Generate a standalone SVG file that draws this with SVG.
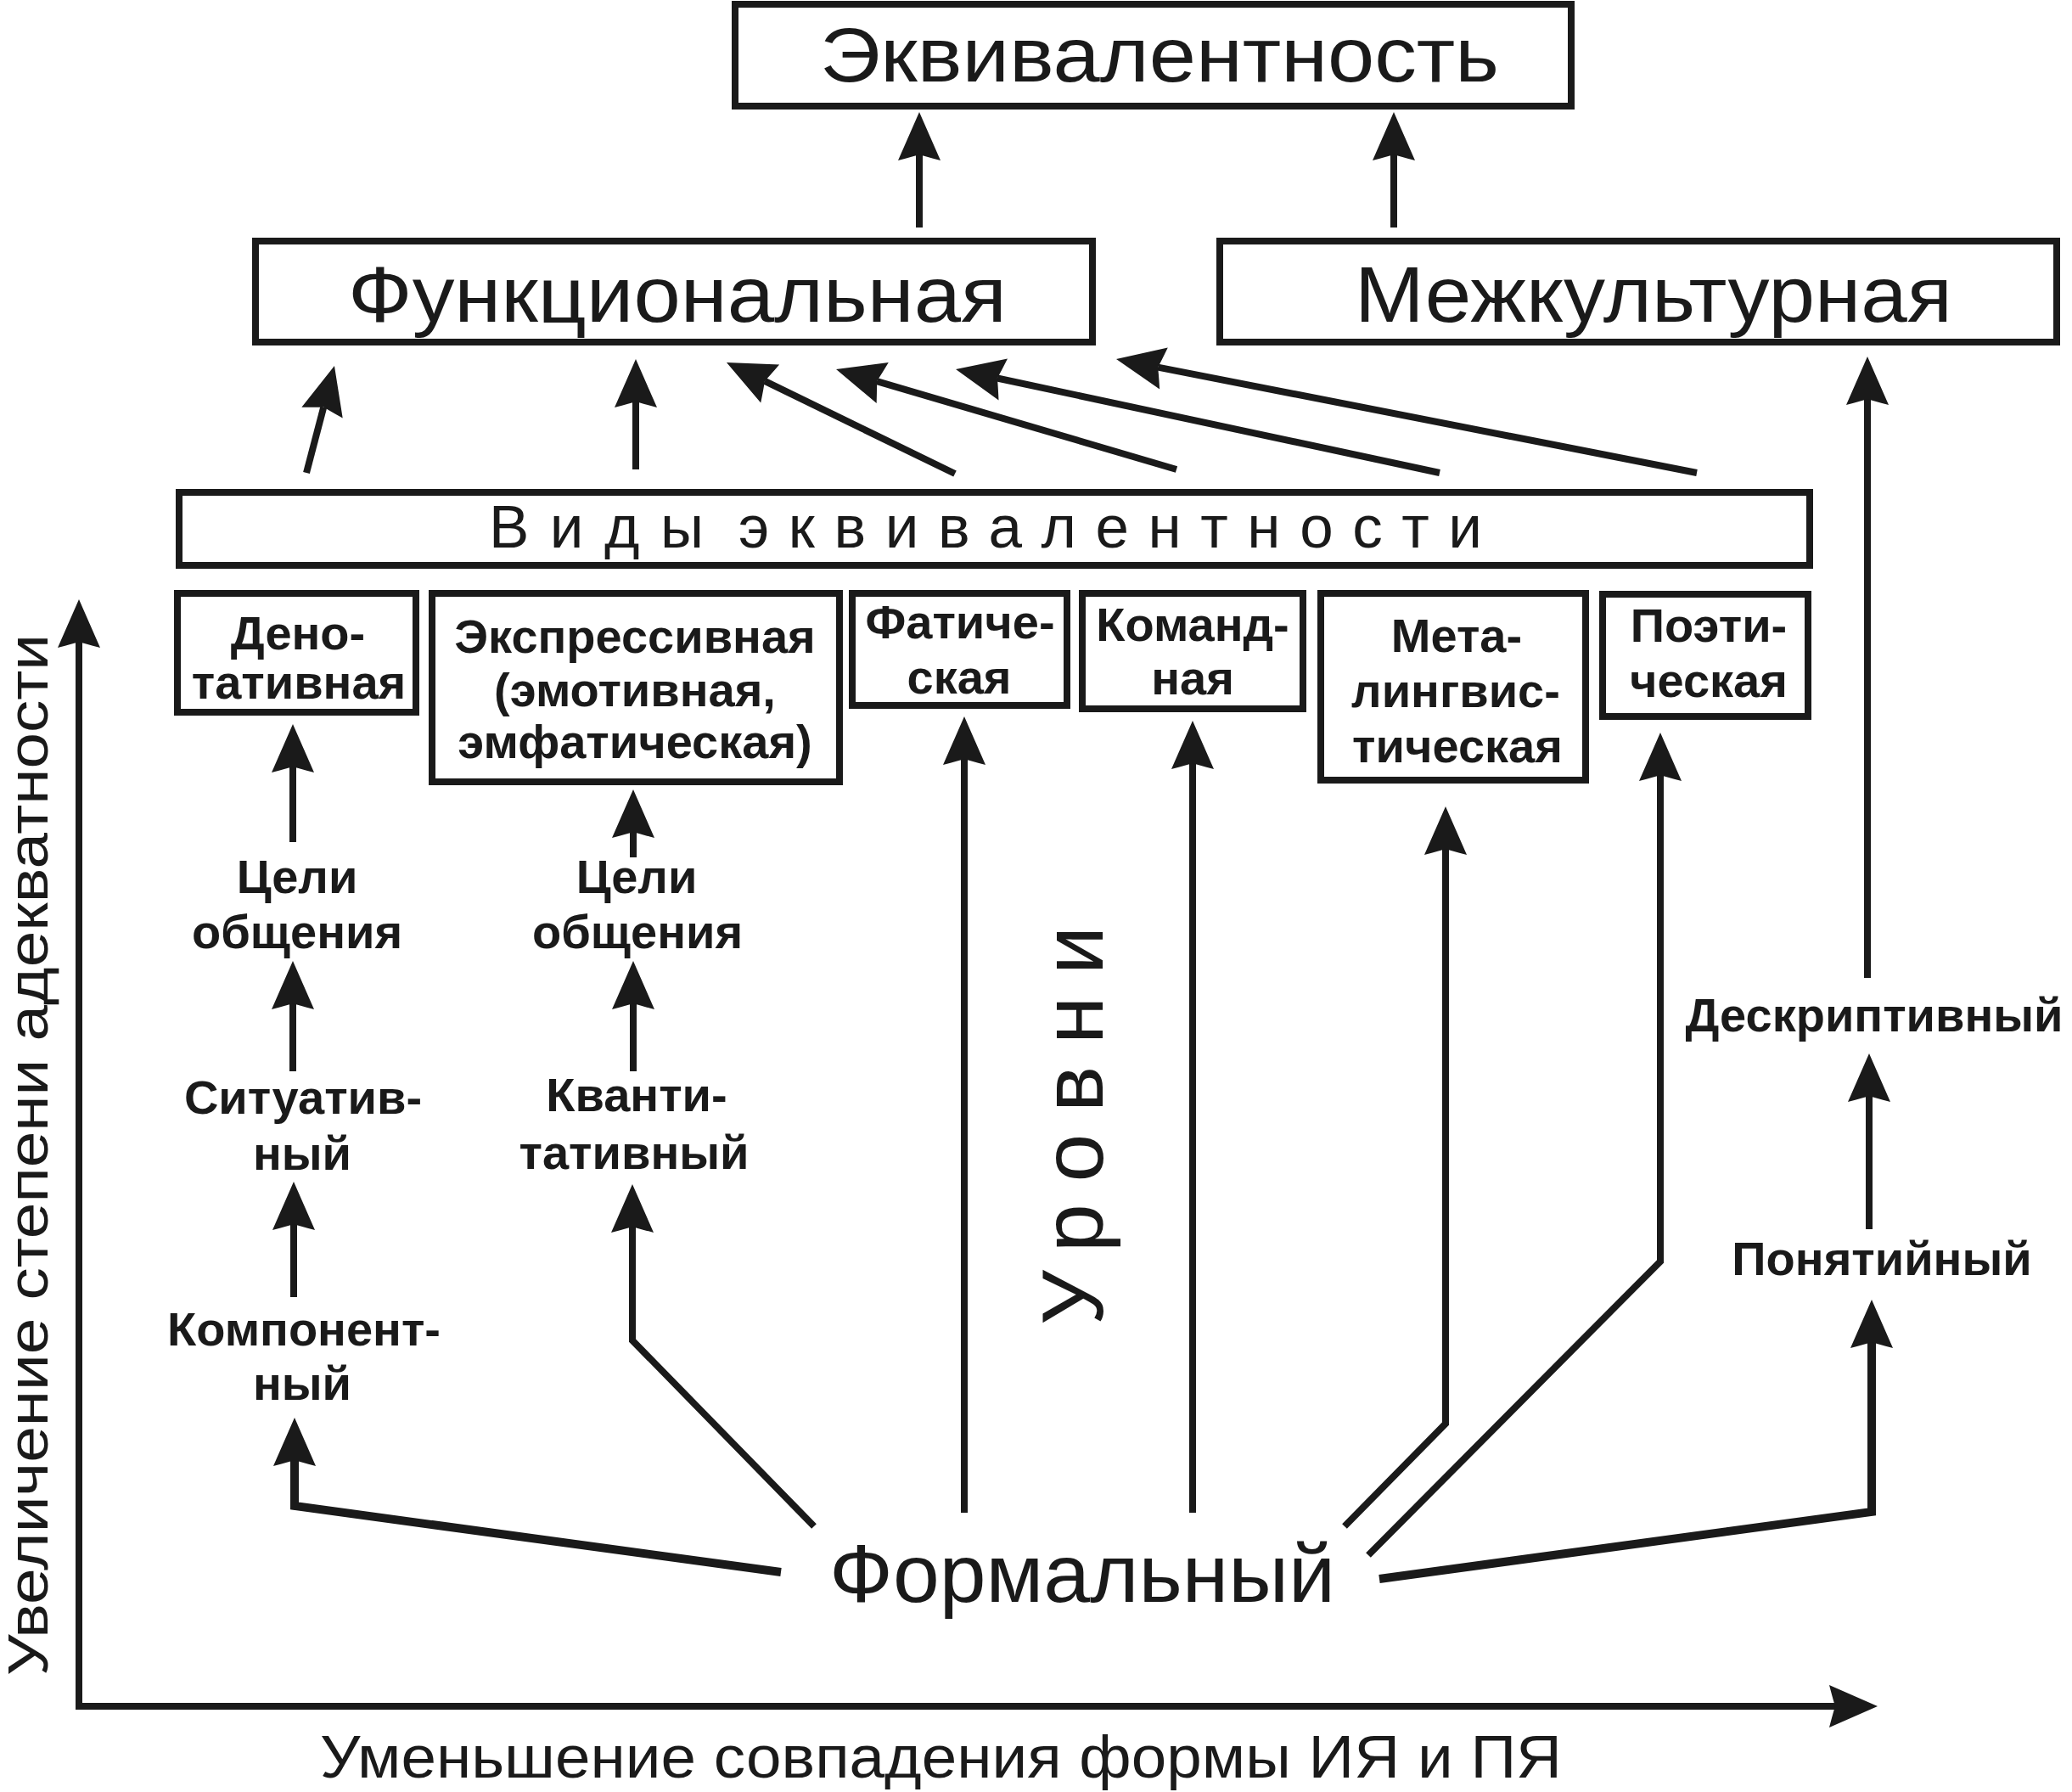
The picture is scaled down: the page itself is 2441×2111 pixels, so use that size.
<svg xmlns="http://www.w3.org/2000/svg" width="2441" height="2111" viewBox="0 0 2441 2111">
<style>
.box{fill:#fff;stroke:#1a1a1a;stroke-width:8}
.reg{font-family:"Liberation Sans",Arial,sans-serif;fill:#1a1a1a}
.b{font-family:"Liberation Sans",Arial,sans-serif;font-weight:bold;font-size:56px;fill:#1a1a1a;text-anchor:middle}
.ln{fill:none;stroke:#1a1a1a;stroke-width:8;stroke-linejoin:miter}
.arr{marker-end:url(#ah)}
.thick{stroke-width:10}
</style>
<defs>
<marker id="ah" markerUnits="userSpaceOnUse" viewBox="-12 -28 66 56" markerWidth="66" markerHeight="56" refX="0" refY="0" orient="auto" overflow="visible">
<path d="M50,0 L-7,-25 Q-2,-6 0,0 Q-2,6 -7,25 Z" fill="#1a1a1a"/>
</marker>
</defs>
<rect width="2441" height="2111" fill="#fff"/>

<g id="connectors">
<line class="ln arr" x1="1083" y1="268" x2="1083" y2="182"/>
<line class="ln arr" x1="1642" y1="268" x2="1642" y2="182"/>
<line class="ln arr" x1="361" y1="557" x2="381.3" y2="479.4"/>
<line class="ln arr" x1="749" y1="553" x2="749" y2="473"/>
<line class="ln arr" x1="1125" y1="558" x2="900.9" y2="448.9"/>
<line class="ln arr" x1="1386" y1="553" x2="1033" y2="449.1"/>
<line class="ln arr" x1="1696" y1="557" x2="1174.9" y2="445.5"/>
<line class="ln arr" x1="1999" y1="557" x2="1364.1" y2="432.6"/>
<line class="ln arr" x1="345" y1="992" x2="345" y2="903"/>
<line class="ln arr" x1="345" y1="1262" x2="345" y2="1182"/>
<line class="ln arr" x1="346" y1="1528" x2="346" y2="1442"/>
<polyline class="ln arr thick" points="920,1852 347,1774 347,1720"/>
<line class="ln arr" x1="746" y1="1010" x2="746" y2="980"/>
<line class="ln arr" x1="746" y1="1262" x2="746" y2="1182"/>
<polyline class="ln arr" points="959,1798 745,1579 745,1445"/>
<line class="ln arr" x1="1136" y1="1782" x2="1136" y2="894"/>
<line class="ln arr" x1="1405" y1="1782" x2="1405" y2="899"/>
<polyline class="ln arr" points="1584,1798 1703,1677 1703,1000"/>
<polyline class="ln arr" points="1612,1832 1956,1486 1956,913"/>
<polyline class="ln arr thick" points="1625,1860 2205,1781 2205,1581"/>
<line class="ln arr" x1="2202" y1="1448" x2="2202" y2="1291"/>
<line class="ln arr" x1="2200" y1="1152" x2="2200" y2="470"/>
<line class="ln arr" x1="93" y1="2014" x2="93" y2="756"/>
<line class="ln arr" x1="89" y1="2010" x2="2162" y2="2010"/>
</g>

<g id="n-ekv">
<rect class="box" x="866" y="5" width="985" height="120"/>
<text class="reg" x="966" y="96" font-size="91" textLength="800" lengthAdjust="spacingAndGlyphs">Эквивалентность</text>
</g>
<g id="n-func">
<rect class="box" x="301" y="284" width="986" height="119"/>
<text class="reg" x="410" y="379" font-size="93" textLength="776" lengthAdjust="spacingAndGlyphs">Функциональная</text>
</g>
<g id="n-mezh">
<rect class="box" x="1437" y="284" width="986" height="119"/>
<text class="reg" x="1596" y="379" font-size="93" textLength="704" lengthAdjust="spacingAndGlyphs">Межкультурная</text>
</g>
<g id="n-vidy">
<rect class="box" x="211" y="580" width="1921" height="86"/>
<text class="reg" y="645" font-size="71"><tspan x="576" textLength="253" lengthAdjust="spacing">Виды</tspan><tspan x="870" textLength="876" lengthAdjust="spacing">эквивалентности</tspan></text>
</g>
<g id="n-denot">
<rect class="box" x="209" y="699" width="281" height="140"/>
<text class="b" x="351" y="765">Дено-</text>
<text class="b" x="352" y="823">тативная</text>
</g>
<g id="n-expr">
<rect class="box" x="509" y="699" width="480" height="222"/>
<text class="b" x="748" y="769">Экспрессивная</text>
<text class="b" x="748" y="832">(эмотивная,</text>
<text class="b" x="748" y="893">эмфатическая)</text>
</g>
<g id="n-fat">
<rect class="box" x="1004" y="699" width="253" height="132"/>
<text class="b" x="1131" y="752">Фатиче-</text>
<text class="b" x="1130" y="817">ская</text>
</g>
<g id="n-kom">
<rect class="box" x="1275" y="699" width="260" height="136"/>
<text class="b" x="1405" y="755">Команд-</text>
<text class="b" x="1405" y="818">ная</text>
</g>
<g id="n-meta">
<rect class="box" x="1556" y="699" width="312" height="220"/>
<text class="b" x="1716" y="768">Мета-</text>
<text class="b" x="1715" y="833">лингвис-</text>
<text class="b" x="1717" y="898">тическая</text>
</g>
<g id="n-poet">
<rect class="box" x="1888" y="700" width="242" height="144"/>
<text class="b" x="2013" y="756">Поэти-</text>
<text class="b" x="2013" y="821">ческая</text>
</g>
<g id="n-celi1">
<text class="b" x="350" y="1052">Цели</text>
<text class="b" x="350" y="1117">общения</text>
</g>
<g id="n-celi2">
<text class="b" x="750" y="1052">Цели</text>
<text class="b" x="751" y="1117">общения</text>
</g>
<g id="n-sit">
<text class="b" x="357" y="1312">Ситуатив-</text>
<text class="b" x="356" y="1378">ный</text>
</g>
<g id="n-kvant">
<text class="b" x="750" y="1309">Кванти-</text>
<text class="b" x="747" y="1377">тативный</text>
</g>
<g id="n-komp">
<text class="b" x="358" y="1585">Компонент-</text>
<text class="b" x="356" y="1649">ный</text>
</g>
<g id="n-desc">
<text class="b" x="2208" y="1215">Дескриптивный</text>
</g>
<g id="n-pon">
<text class="b" x="2217" y="1502">Понятийный</text>
</g>
<g id="n-form">
<text class="reg" x="977" y="1887" font-size="97" textLength="596" lengthAdjust="spacingAndGlyphs">Формальный</text>
</g>
<g id="n-urovni">
<text class="reg" transform="translate(1299,1561) rotate(-90)" x="0" y="0" font-size="102" textLength="470" lengthAdjust="spacing">Уровни</text>
</g>
<g id="axis-labels">
<text class="reg" transform="translate(56,1974) rotate(-90)" x="0" y="0" font-size="66" textLength="1227" lengthAdjust="spacingAndGlyphs">Увеличение степени адекватности</text>
<text class="reg" x="377" y="2094" font-size="70" textLength="1463" lengthAdjust="spacingAndGlyphs">Уменьшение совпадения формы ИЯ и ПЯ</text>
</g>
</svg>
